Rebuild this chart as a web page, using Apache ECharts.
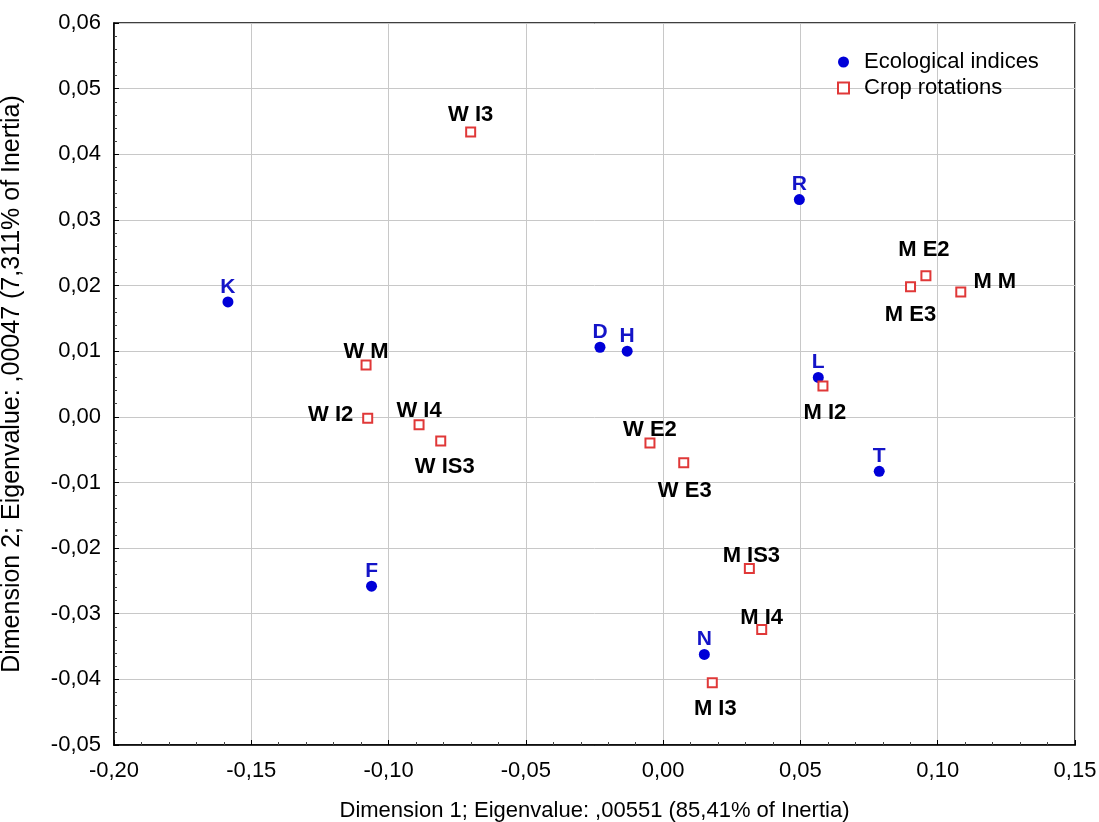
<!DOCTYPE html>
<html>
<head>
<meta charset="utf-8">
<script src="https://cdn.jsdelivr.net/npm/echarts@6/dist/echarts.min.js"></script>
<style>html,body{margin:0;padding:0;background:#fff;}#chart{width:1099px;height:822px;}</style>
</head>
<body>
<div id="chart"></div>
<script>
// ---- data ----
const ecoNames = ['K', 'F', 'D', 'H', 'R', 'L', 'T', 'N'];
const ecoX = [-0.1585, -0.1062, -0.0230, -0.0131, 0.0496, 0.0565, 0.0787, 0.0150];
const ecoY = [0.0175, -0.0258, 0.0106, 0.0100, 0.0331, 0.0060, -0.0083, -0.0362];

const cropNames = ['W I3', 'W M', 'W I2', 'W I4', 'W IS3', 'W E2', 'W E3', 'M I2', 'M E2', 'M E3', 'M M', 'M IS3', 'M I4', 'M I3'];
const cropX = [-0.0701, -0.1082, -0.1076, -0.0889, -0.0810, -0.0048, 0.0075, 0.0582, 0.0957, 0.0901, 0.1084, 0.0314, 0.0359, 0.0179];
const cropY = [0.0434, 0.0079, -0.0002, -0.0012, -0.0037, -0.0040, -0.0070, 0.0047, 0.0215, 0.0198, 0.0190, -0.0231, -0.0324, -0.0405];

const xTicks = { min: -0.20, max: 0.15, step: 0.05 };
const yTicks = { min: -0.05, max: 0.06, step: 0.01 };

const seriesNames = ['Ecological indices', 'Crop rotations'];
const xTitle = 'Dimension 1; Eigenvalue: ,00551 (85,41% of Inertia)';
const yTitle = 'Dimension 2; Eigenvalue: ,00047 (7,311% of Inertia)';

// ---- label placement (styling, px offsets from the point) ----
const cropLabelOffset = {
  'W I3': [0, -17], 'W M': [0, -13], 'W I2': [-37, -3], 'W I4': [0, -14],
  'W IS3': [4, 26], 'W E2': [0, -13], 'W E3': [1, 28], 'M I2': [2, 27],
  'M E2': [-2, -26], 'M E3': [0, 28], 'M M': [34, -10], 'M IS3': [2, -13],
  'M I4': [0, -12], 'M I3': [3, 26]
};

const fmt = v => v.toFixed(2).replace('.', ',');
const FONT = '"Liberation Sans", Arial, sans-serif';

const ecoData = ecoNames.map((n, i) => ({ name: n, value: [ecoX[i], ecoY[i]] }));
const cropData = cropNames.map((n, i) => ({
  name: n, value: [cropX[i], cropY[i]],
  label: { offset: cropLabelOffset[n] || [0, -14] }
}));

const chart = echarts.init(document.getElementById('chart'), null, { renderer: 'canvas' });
chart.setOption({
  backgroundColor: '#ffffff',
  animation: false,
  grid: { left: 114, right: 24, top: 23, bottom: 77, outerBoundsMode: 'none', containLabel: false, show: true, borderColor: '#000', borderWidth: 1.5, backgroundColor: 'transparent' },
  legend: {
    orient: 'vertical', left: 832, top: 46, itemGap: 4, itemWidth: 11, itemHeight: 11,
    textStyle: { fontFamily: FONT, fontSize: 22, color: '#000', padding: [0, 0, 0, 10] },
    data: [
      { name: seriesNames[0], icon: 'circle' },
      { name: seriesNames[1], icon: 'rect' }
    ]
  },
  xAxis: {
    type: 'value', min: xTicks.min, max: xTicks.max, interval: xTicks.step,
    name: xTitle, nameLocation: 'middle', nameGap: 55,
    nameTextStyle: { fontFamily: FONT, fontSize: 22, color: '#000' },
    axisLine: { show: true, onZero: false, lineStyle: { color: '#000', width: 1.5 } },
    axisTick: { show: true, inside: true, length: 5, lineStyle: { color: '#000' } },
    minorTick: { show: true, splitNumber: 5, length: 3, lineStyle: { color: '#444' } },
    axisLabel: { formatter: fmt, fontFamily: FONT, fontSize: 22, color: '#000', margin: 15 },
    splitLine: { show: true, lineStyle: { color: '#c8c8c8', width: 1 } }
  },
  yAxis: {
    type: 'value', min: yTicks.min, max: yTicks.max, interval: yTicks.step,
    name: yTitle, nameLocation: 'middle', nameGap: 89, nameRotate: 90,
    nameTextStyle: { fontFamily: FONT, fontSize: 25, color: '#000' },
    axisLine: { show: true, onZero: false, lineStyle: { color: '#000', width: 1.5 } },
    axisTick: { show: true, inside: true, length: 5, lineStyle: { color: '#000' } },
    minorTick: { show: true, splitNumber: 5, length: 3, lineStyle: { color: '#444' } },
    axisLabel: { formatter: fmt, fontFamily: FONT, fontSize: 22, color: '#000', margin: 13 },
    splitLine: { show: true, lineStyle: { color: '#c8c8c8', width: 1 } }
  },
  series: [
    {
      name: seriesNames[0], type: 'scatter', symbol: 'circle', symbolSize: 11,
      itemStyle: { color: '#0000d8', opacity: 1 },
      data: ecoData,
      label: {
        show: true, position: 'inside', offset: [0, -15], formatter: '{b}',
        fontFamily: FONT, fontSize: 21, fontWeight: 'bold', color: '#1414c8'
      },
      z: 3
    },
    {
      name: seriesNames[1], type: 'scatter', symbol: 'rect', symbolSize: 9,
      itemStyle: { color: '#ffffff', borderColor: '#e03838', borderWidth: 2, opacity: 1 },
      data: cropData,
      label: {
        show: true, position: 'inside', formatter: '{b}',
        fontFamily: FONT, fontSize: 22, fontWeight: 'bold', color: '#000'
      },
      z: 4
    }
  ]
});
</script>
</body>
</html>
